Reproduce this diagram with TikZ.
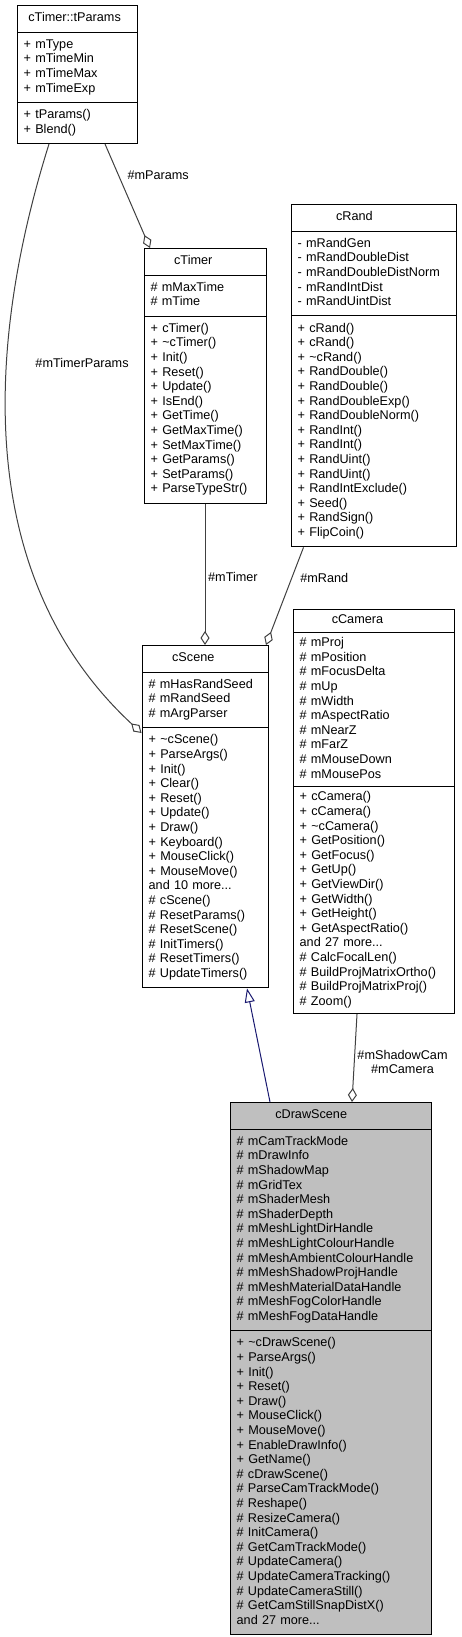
\documentclass[tikz,border=0pt]{standalone}
\usepackage{fontspec}
\setmainfont{Liberation Sans}
\usepackage{tikz}
\usetikzlibrary{shapes.multipart, arrows.meta, positioning, calc}
\definecolor{midnight}{RGB}{25,25,112}

\begin{document}
\begin{tikzpicture}[x=0.75pt, y=-0.75pt,
            cls/.style    ={rectangle split, rectangle split parts=3, draw=black, fill=white,
                            line width=0.75pt, align=left, inner xsep=5pt, inner ysep=4.1pt,
                            font=\fontsize{9.5}{10.95}\selectfont, anchor=north},
            hl/.style     ={cls, fill=black!25},
            assoc/.style  ={-{Diamond[open, length=10.5pt, width=6.75pt]}, line width=0.75pt, draw=black!75},
            inherit/.style={-{Triangle[open, length=10.5pt, width=7.5pt]}, line width=0.75pt, draw=midnight},
            lbl/.style    ={font=\fontsize{9.5}{10.5}\selectfont, inner sep=2pt, align=center}
        ]
            \useasboundingbox (0,0) rectangle (461,1637);

            % classes
            \node[cls, text width=80pt] (params) at (77,5)
                {\strut\hfil cTimer::tParams\hfil\strut
                 \nodepart{two}\strut+ mType\\+ mTimeMin\\+ mTimeMax\\+ mTimeExp\strut
                 \nodepart{three}\strut+ tParams()\\+ Blend()\strut};
            \node[cls, text width=81.5pt] (timer) at (205,248)
                {\strut\hfil cTimer\hfil\strut
                 \nodepart{two}\strut\# mMaxTime\\\# mTime\strut
                 \nodepart{three}\strut+ cTimer()\\+ \textasciitilde cTimer()\\+ Init()\\+ Reset()\\+ Update()\\+ IsEnd()\\
                 + GetTime()\\+ GetMaxTime()\\+ SetMaxTime()\\+ GetParams()\\+ SetParams()\\+ ParseTypeStr()\strut};
            \node[cls, text width=113.75pt] (rand) at (373.5,204)
                {\strut\hfil cRand\hfil\strut
                 \nodepart{two}\strut- mRandGen\\- mRandDoubleDist\\- mRandDoubleDistNorm\\- mRandIntDist\\- mRandUintDist\strut
                 \nodepart{three}\strut+ cRand()\\+ cRand()\\+ \textasciitilde cRand()\\+ RandDouble()\\+ RandDouble()\\
                 + RandDoubleExp()\\+ RandDoubleNorm()\\+ RandInt()\\+ RandInt()\\+ RandUint()\\+ RandUint()\\
                 + RandIntExclude()\\+ Seed()\\+ RandSign()\\+ FlipCoin()\strut};
            \node[cls, text width=84.5pt] (scene) at (205,645)
                {\strut\hfil cScene\hfil\strut
                 \nodepart{two}\strut\# mHasRandSeed\\\# mRandSeed\\\# mArgParser\strut
                 \nodepart{three}\strut+ \textasciitilde cScene()\\+ ParseArgs()\\+ Init()\\+ Clear()\\+ Reset()\\+ Update()\\
                 + Draw()\\+ Keyboard()\\+ MouseClick()\\+ MouseMove()\\and 10 more...\\\# cScene()\\
                 \# ResetParams()\\\# ResetScene()\\\# InitTimers()\\\# ResetTimers()\\\# UpdateTimers()\strut};
            \node[cls, text width=110.75pt, inner ysep=2.7pt] (camera) at (373.5,609)
                {\strut\hfil cCamera\hfil\strut
                 \nodepart{two}\strut\# mProj\\\# mPosition\\\# mFocusDelta\\\# mUp\\\# mWidth\\\# mAspectRatio\\
                 \# mNearZ\\\# mFarZ\\\# mMouseDown\\\# mMousePos\strut
                 \nodepart{three}\strut+ cCamera()\\+ cCamera()\\+ \textasciitilde cCamera()\\+ GetPosition()\\+ GetFocus()\\
                 + GetUp()\\+ GetViewDir()\\+ GetWidth()\\+ GetHeight()\\+ GetAspectRatio()\\and 27 more...\\
                 \# CalcFocalLen()\\\# BuildProjMatrixOrtho()\\\# BuildProjMatrixProj()\\\# Zoom()\strut};
            \node[hl, text width=140.75pt] (drawscene) at (330.5,1102)
                {\strut\hfil cDrawScene\hfil\strut
                 \nodepart{two}\strut\# mCamTrackMode\\\# mDrawInfo\\\# mShadowMap\\\# mGridTex\\\# mShaderMesh\\
                 \# mShaderDepth\\\# mMeshLightDirHandle\\\# mMeshLightColourHandle\\\# mMeshAmbientColourHandle\\
                 \# mMeshShadowProjHandle\\\# mMeshMaterialDataHandle\\\# mMeshFogColorHandle\\\# mMeshFogDataHandle\strut
                 \nodepart{three}\strut+ \textasciitilde cDrawScene()\\+ ParseArgs()\\+ Init()\\+ Reset()\\+ Draw()\\
                 + MouseClick()\\+ MouseMove()\\+ EnableDrawInfo()\\+ GetName()\\\# cDrawScene()\\
                 \# ParseCamTrackMode()\\\# Reshape()\\\# ResizeCamera()\\\# InitCamera()\\\# GetCamTrackMode()\\
                 \# UpdateCamera()\\\# UpdateCameraTracking()\\\# UpdateCameraStill()\\\# GetCamStillSnapDistX()\\
                 and 27 more...\strut};

            % relations
            \draw[assoc] ($(params.south)+(28,0)$) -- node[lbl, pos=0.3, right=4.4pt] {\#mParams} ($(timer.north)+(-55,0)$);
            \draw[assoc] ($(params.south)+(-28,0)$) .. controls (0,300) and (-45,560) ..
                node[lbl, pos=0.39, right=19pt] {\#mTimerParams} ($(scene.north west)+(0,88)$);
            \draw[assoc] (timer.south) -- node[lbl, pos=0.52, right] {\#mTimer} (scene.north);
            \draw[assoc] ($(rand.south)+(-70,0)$) -- node[lbl, pos=0.31, right=4pt] {\#mRand} ($(scene.north)+(61,0)$);
            \draw[assoc] ($(camera.south)+(-16.5,0)$) -- node[lbl, pos=0.54, right] {\#mShadowCam\\\#mCamera} ($(drawscene.north)+(21.5,0)$);
            \draw[inherit] ($(drawscene.north)+(-60.5,0)$) -- ($(scene.south)+(42,0)$);
        \end{tikzpicture}
\end{document}
